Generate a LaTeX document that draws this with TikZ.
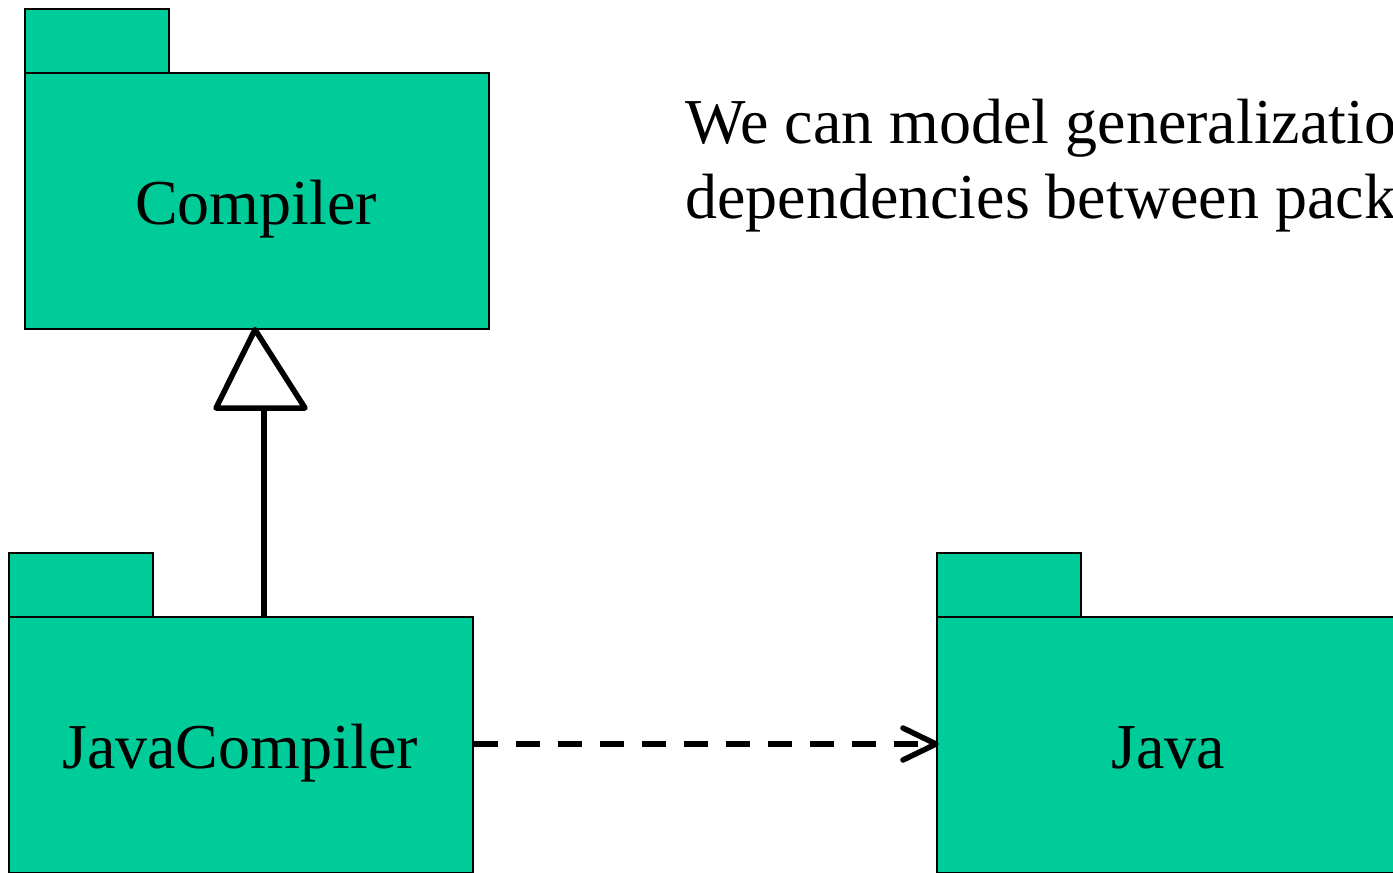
\documentclass[tikz,border=0pt]{standalone}
\usepackage{fontspec}
\setmainfont{Liberation Serif}
\usetikzlibrary{calc}
\definecolor{pkggreen}{HTML}{00CC99}
\begin{document}
\begin{tikzpicture}[x=1pt,y=-1pt,
  pkgbody/.style={draw=black, fill=pkggreen, line width=1.6pt, rectangle, inner sep=0pt,
    minimum width=464pt, minimum height=256pt, anchor=north west},
  pkgtab/.style={draw=black, fill=pkggreen, line width=1.6pt, rectangle, inner sep=0pt,
    minimum width=144pt, minimum height=64pt, anchor=north west},
  pkglabel/.style={font=\fontsize{64}{70}\selectfont, inner sep=0pt, anchor=base},
  bodytext/.style={font=\fontsize{64}{75}\selectfont, inner sep=0pt, anchor=base west},
  conn/.style={line width=5.5pt, black}
]
\clip (0,0) rectangle (1393,873);
\fill[white] (0,0) rectangle (1393,873);
% Compiler package
\node[pkgtab] (ctab) at (24,8) {};
\node[pkgbody] (cbody) at (24,72) {};
\node[pkglabel] (clabel) at (256,224) {Compiler};
% JavaCompiler package
\node[pkgtab] (jctab) at (8,552) {};
\node[pkgbody] (jcbody) at (8,616) {};
\node[pkglabel] (jclabel) at (240,768) {JavaCompiler};
% Java package
\node[pkgtab] (jtab) at (936,552) {};
\node[pkgbody] (jbody) at (936,616) {};
\node[pkglabel] (jlabel) at (1168,768) {Java};
% Text
\node[bodytext] (t1) at (685,143) {We can model generalizatio};
\node[bodytext] (t2) at (685,218) {dependencies between pack};
% Generalization
\coordinate (gbase) at ($(jcbody.north west)+(256,-208)$);
\draw[conn] ($(jcbody.north west)+(256,0)$) -- (gbase);
\draw[conn, fill=white, line join=round]
  ($(gbase)+(-48,0)$) -- ($(cbody.south west)+(231,0)$) -- ($(gbase)+(41,0)$) -- cycle;
% Dependency
\coordinate (dtip) at (jbody.west |- 0,744);
\draw[conn, dash pattern=on 24pt off 18pt] (jcbody.east |- 0,744) -- (dtip);
\draw[conn, line cap=round, line join=round]
  ($(dtip)+(-33,-16)$) -- (dtip) -- ($(dtip)+(-33,16)$);
\end{tikzpicture}
\end{document}
